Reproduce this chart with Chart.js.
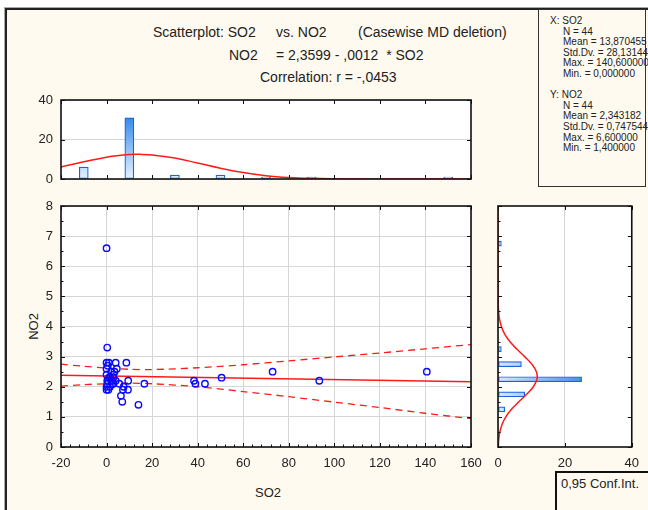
<!DOCTYPE html>
<html>
<head>
<meta charset="utf-8">
<script src="https://cdn.jsdelivr.net/npm/chart.js"></script>
<style>
  body { margin: 0; background: #fff; font-family: 'Liberation Sans', Arial, sans-serif; color: #222; }
  #page { position: relative; width: 648px; height: 510px; overflow: hidden; }
  #frame { position: absolute; left: 5px; top: 8px; width: 700px; height: 600px; border: 2px solid #222; background: #fffaef; box-shadow: -1px -1px 0 #aaa; }
  canvas { position: absolute; left: 0; top: 0; }
  .txt { position: absolute; white-space: nowrap; }
  .title { font-size: 14px; line-height: 16px; }
  #stats { position: absolute; left: 538px; top: 9px; width: 106px; height: 176px; border: 1px solid #333; background: #fffaef; }
  #stats div { position: absolute; font-size: 10px; line-height: 11px; white-space: nowrap; }
  #conf { position: absolute; left: 555px; top: 471px; width: 120px; height: 80px; border: 2px solid #111; background: #fffaef; }
</style>
</head>
<body>
<div id="page">
  <div id="frame"></div>
  <div class="txt title" style="left:153px; top:24px;">Scatterplot: SO2</div>
  <div class="txt title" style="left:276px; top:24px;">vs. NO2</div>
  <div class="txt title" style="left:358px; top:24px;">(Casewise MD deletion)</div>
  <div class="txt title" style="left:229px; top:47px;">NO2</div>
  <div class="txt title" style="left:276px; top:47px;">= 2,3599 - ,0012&nbsp; * SO2</div>
  <div class="txt title" style="left:260px; top:69px;">Correlation: r = -,0453</div>
  <div id="stats"></div>
  <div class="txt" style="left:20px; top:319px; font-size:13px; transform: rotate(-90deg); transform-origin: 50% 50%;">NO2</div>
  <div class="txt" style="left:255px; top:485px; font-size:13px;">SO2</div>
  <canvas id="topHist" width="648" height="510"></canvas>
  <canvas id="scatter" width="648" height="510"></canvas>
  <canvas id="sideHist" width="648" height="510"></canvas>
  <div id="conf"><div class="txt" style="left:4px; top:3px; font-size:13px;">0,95 Conf.Int.</div></div>
</div>

<script>
// ---- data ----
var so2 = [0, 0.3, 0, 1, 4, 8.7, 4.5, 0, 2, 3.5, 0, 1.6, 0.6, 4, 0.3, 9.5, 2.5, 5.6, 0.4, 0, 7.5, 0,
           7.2, 9.4, 6.3, 6.9, 14, 16.6, 38.4, 39, 43.2, 50.5, 72.9, 93.4, 140.6,
           0.5, 0.8, 1.5, 1, 2, 3, 3, 2.5, 3];
var no2 = [6.6, 3.3, 2.8, 2.8, 2.8, 2.8, 2.6, 2.6, 2.5, 2.5, 2.4, 2.3, 2.2, 2.2, 2.2, 2.2, 2.1, 2.1, 2.1, 2.0, 2.0, 1.9,
           1.9, 1.9, 1.7, 1.5, 1.4, 2.1, 2.2, 2.1, 2.1, 2.3, 2.5, 2.2, 2.5,
           2.7, 1.9, 2.0, 2.3, 2.2, 2.4, 2.1, 2.2, 2.3];

// fitted line NO2 = 2,3599 - ,0012 * SO2 and its 0,95 band
var fitX = [-20, 160];
var fitY = [2.384, 2.168];
var bandX = [-20, -10, 0, 10, 20, 40, 60, 80, 100, 120, 140, 160];
var bandUpper = [2.75, 2.68, 2.62, 2.58, 2.57, 2.63, 2.73, 2.86, 2.99, 3.12, 3.26, 3.40];
var bandLower = [2.02, 2.07, 2.10, 2.12, 2.10, 2.00, 1.84, 1.67, 1.49, 1.31, 1.12, 0.94];

// SO2 histogram (top)
var so2Bins = [-10, 10, 30, 50, 70, 90, 110, 130, 150];
var so2Counts = [6, 31, 2, 2, 1, 1, 0, 0, 1];
var so2CurveX = [-20, -10, 0, 10, 15, 20, 30, 40, 50, 60, 70, 80, 90, 100, 110, 120, 130, 140, 150, 160];
var so2CurveY = [6.05, 8.71, 11.05, 12.36, 12.47, 12.19, 10.59, 8.11, 5.47, 3.25, 1.70, 0.79, 0.32, 0.11, 0.04, 0.01, 0, 0, 0, 0];

// NO2 histogram (right)
var no2Bins = [1.25, 1.75, 2.25, 2.75, 3.25, 6.75];
var no2Counts = [2, 8, 25, 7, 1, 1];
var no2CurveY = [0, 0.25, 0.5, 0.75, 1, 1.25, 1.5, 1.75, 2, 2.25, 2.5, 2.75, 3, 3.25, 3.5, 3.75, 4, 4.25, 4.5, 4.75, 5, 6, 7, 8];
var no2CurveX = [0.09, 0.23, 0.56, 1.21, 2.34, 4.03, 6.22, 8.57, 10.57, 11.65, 11.48, 10.12, 7.98, 5.62, 3.54, 2.00, 1.01, 0.45, 0.18, 0.07, 0.02, 0, 0, 0];

var statsLines = [
  ['X:  SO2', 0], ['N = 44', 1], ['Mean = 13,870455', 1], ['Std.Dv. = 28,131449', 1], ['Max. = 140,600000', 1], ['Min. = 0,000000', 1],
  ['', 0],
  ['Y:  NO2', 0], ['N = 44', 1], ['Mean = 2,343182', 1], ['Std.Dv. = 0,747544', 1], ['Max. = 6,600000', 1], ['Min. = 1,400000', 1]
];

// ---- stats box ----
var box = document.getElementById('stats');
statsLines.forEach(function (l, i) {
  if (!l[0]) return;
  var d = document.createElement('div');
  d.textContent = l[0];
  d.style.left = (l[1] ? 24 : 11) + 'px';
  d.style.top = (5 + i * 10.6) + 'px';
  box.appendChild(d);
});

function pts(xs, ys) { return xs.map(function (x, i) { return {x: x, y: ys[i]}; }); }
function range(a, b, s) { var r = []; for (var v = a; v <= b + 1e-9; v += s) r.push(+v.toFixed(4)); return r; }

Chart.defaults.font.family = "'Liberation Sans', Arial, sans-serif";
Chart.defaults.font.size = 13;
Chart.defaults.color = '#222';

var red = '#ff1a1a';
var gridCol = '#d6d6d6';

// white plot area, black frame, inward tick marks
Chart.register({
  id: 'plotFrame',
  beforeDraw: function (chart) {
    var c = chart.ctx, a = chart.chartArea;
    c.save();
    c.fillStyle = '#fff';
    c.fillRect(a.left, a.top, a.right - a.left, a.bottom - a.top);
    c.restore();
  },
  afterDatasetsDraw: function (chart, args, o) {
    var c = chart.ctx, a = chart.chartArea, sx = chart.scales.x, sy = chart.scales.y;
    c.save();
    c.strokeStyle = '#111';
    c.lineWidth = 1;
    c.beginPath();
    (o.xMajor || []).forEach(function (v) {
      var p = Math.round(sx.getPixelForValue(v)) + 0.5;
      c.moveTo(p, a.bottom); c.lineTo(p, a.bottom - 4);
      c.moveTo(p, a.top); c.lineTo(p, a.top + 4);
    });
    (o.xMinor || []).forEach(function (v) {
      var p = Math.round(sx.getPixelForValue(v)) + 0.5;
      c.moveTo(p, a.bottom); c.lineTo(p, a.bottom - 2.5);
    });
    (o.yMajor || []).forEach(function (v) {
      var p = Math.round(sy.getPixelForValue(v)) + 0.5;
      c.moveTo(a.left, p); c.lineTo(a.left + 4, p);
      c.moveTo(a.right, p); c.lineTo(a.right - 4, p);
    });
    (o.yMinor || []).forEach(function (v) {
      var p = Math.round(sy.getPixelForValue(v)) + 0.5;
      c.moveTo(a.left, p); c.lineTo(a.left + 2.5, p);
    });
    c.stroke();
    c.lineWidth = 1.6;
    c.strokeRect(a.left, a.top, a.right - a.left, a.bottom - a.top);
    c.restore();
  }
});

var common = {
  responsive: false,
  animation: false,
  devicePixelRatio: 1,
  events: []
};

// ---- scatterplot ----
new Chart(document.getElementById('scatter'), {
  type: 'scatter',
  data: {
    datasets: [
      { data: pts(so2, no2), pointRadius: 3.2, borderColor: '#0a0aff', backgroundColor: 'rgba(0,0,0,0)', borderWidth: 1.4 },
      { data: pts(fitX, fitY), showLine: true, pointRadius: 0, borderColor: red, borderWidth: 1.6 },
      { data: pts(bandX, bandUpper), showLine: true, pointRadius: 0, borderColor: red, borderWidth: 1.3, borderDash: [7, 5], tension: 0.3 },
      { data: pts(bandX, bandLower), showLine: true, pointRadius: 0, borderColor: red, borderWidth: 1.3, borderDash: [7, 5], tension: 0.3 }
    ]
  },
  options: Object.assign({}, common, {
    layout: { padding: { left: 21, right: 177, top: 206, bottom: 33 } },
    plugins: {
      legend: { display: false }, tooltip: { enabled: false },
      plotFrame: { xMajor: range(-20, 160, 20), xMinor: range(-20, 160, 4), yMajor: range(0, 8, 1), yMinor: range(0, 8, 0.5) }
    },
    scales: {
      x: { type: 'linear', min: -20, max: 160, ticks: { stepSize: 20, padding: 9 },
           grid: { color: gridCol, drawTicks: false }, border: { display: false },
           afterFit: function (s) { s.height = 30; } },
      y: { type: 'linear', min: 0, max: 8, ticks: { stepSize: 1, padding: 8 },
           grid: { color: gridCol, drawTicks: false }, border: { display: false },
           afterFit: function (s) { s.width = 40; } }
    }
  })
});

// ---- SO2 histogram ----
new Chart(document.getElementById('topHist'), {
  type: 'bar',
  data: {
    datasets: [
      { type: 'scatter', data: pts(so2CurveX, so2CurveY), showLine: true, pointRadius: 0, borderColor: red, borderWidth: 1.5, tension: 0.4 },
      { type: 'bar', data: pts(so2Bins, so2Counts), barThickness: 9, borderColor: '#1b63d6', borderWidth: 1.2, borderSkipped: false,
        backgroundColor: function (ctx) {
          var a = ctx.chart.chartArea;
          if (!a) return '#9cc8f0';
          var g = ctx.chart.ctx.createLinearGradient(0, a.bottom, 0, a.top + 15);
          g.addColorStop(0, '#e6f2fe');
          g.addColorStop(1, '#2f86ec');
          return g;
        } }
    ]
  },
  options: Object.assign({}, common, {
    layout: { padding: { left: 21, right: 177, top: 100, bottom: 331 } },
    plugins: {
      legend: { display: false }, tooltip: { enabled: false },
      plotFrame: { xMajor: range(-20, 160, 20), yMajor: [0, 20, 40] }
    },
    scales: {
      x: { type: 'linear', min: -20, max: 160, offset: false, ticks: { display: false },
           grid: { display: false, offset: false }, border: { display: false },
           afterFit: function (s) { s.height = 0; } },
      y: { type: 'linear', min: 0, max: 40, ticks: { stepSize: 20, padding: 8 },
           grid: { color: gridCol, drawTicks: false }, border: { display: false },
           afterFit: function (s) { s.width = 40; } }
    }
  })
});

// ---- NO2 histogram ----
new Chart(document.getElementById('sideHist'), {
  type: 'bar',
  data: {
    datasets: [
      { type: 'scatter', data: pts(no2CurveX, no2CurveY), showLine: true, pointRadius: 0, borderColor: red, borderWidth: 1.5, tension: 0.4 },
      { type: 'bar', data: pts(no2Counts, no2Bins), barThickness: 5, borderColor: '#1b63d6', borderWidth: 1.2, borderSkipped: false,
        backgroundColor: function (ctx) {
          var a = ctx.chart.chartArea;
          if (!a) return '#9cc8f0';
          var g = ctx.chart.ctx.createLinearGradient(a.left, 0, a.left + 90, 0);
          g.addColorStop(0, '#d8eafd');
          g.addColorStop(1, '#3d8ae8');
          return g;
        } }
    ]
  },
  options: Object.assign({}, common, {
    indexAxis: 'y',
    layout: { padding: { left: 498, right: 14, top: 206, bottom: 33 } },
    plugins: {
      legend: { display: false }, tooltip: { enabled: false },
      plotFrame: { xMajor: [0, 20, 40], yMajor: range(0, 8, 1), yMinor: range(0, 8, 0.5) }
    },
    scales: {
      x: { type: 'linear', min: 0, max: 40, offset: false, ticks: { stepSize: 20, padding: 9 },
           grid: { color: gridCol, drawTicks: false, offset: false }, border: { display: false },
           afterFit: function (s) { s.height = 30; } },
      y: { type: 'linear', min: 0, max: 8, offset: false, ticks: { display: false },
           grid: { display: false, offset: false }, border: { display: false },
           afterFit: function (s) { s.width = 0; } }
    }
  })
});
</script>
</body>
</html>
